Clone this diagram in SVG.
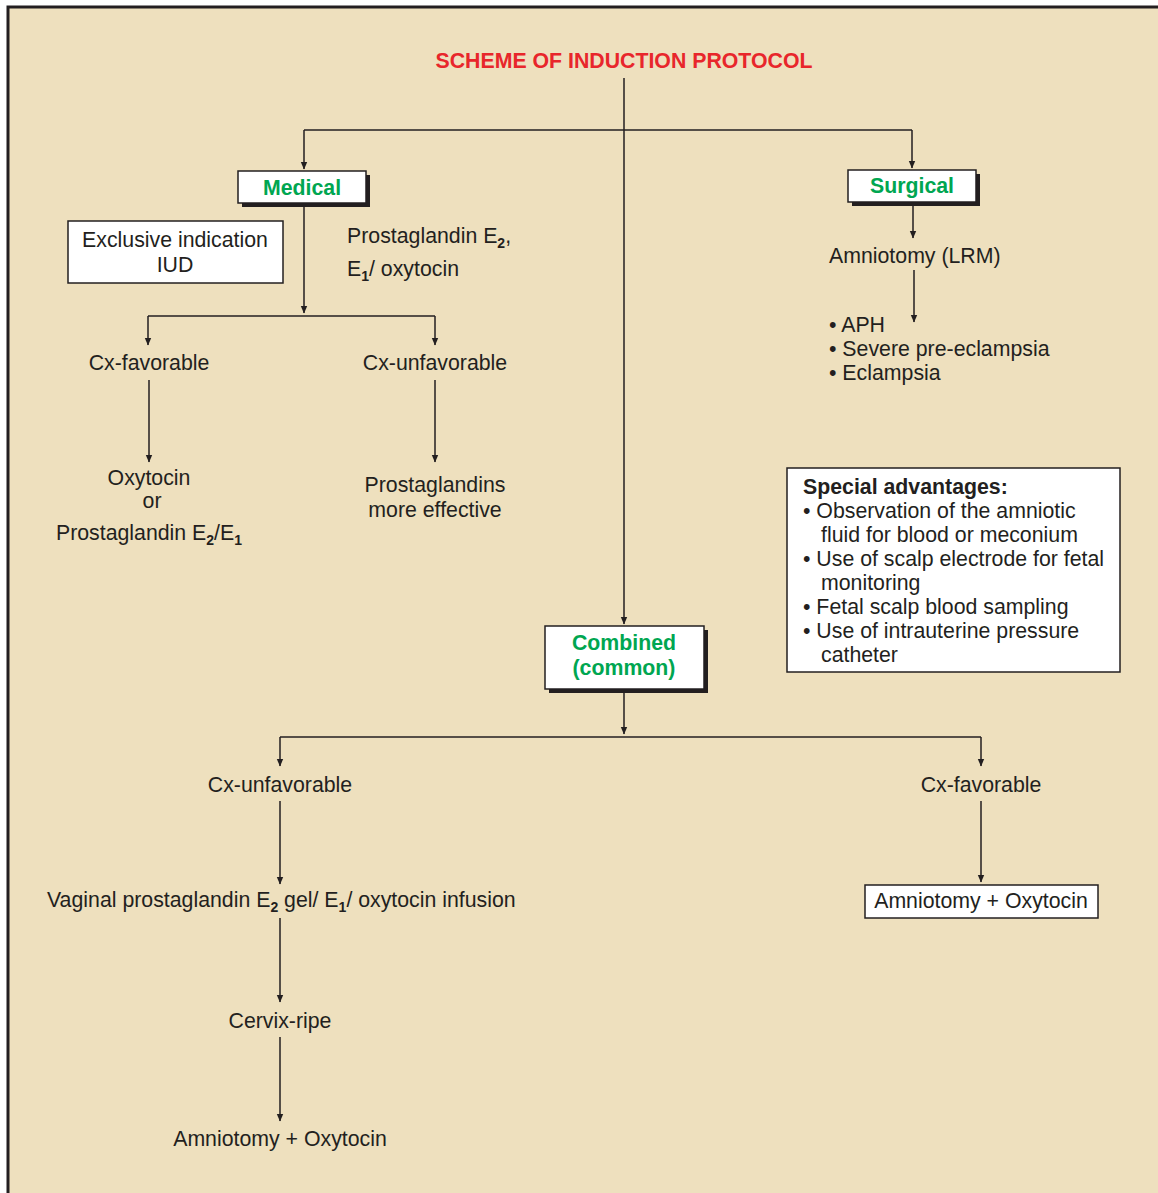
<svg xmlns="http://www.w3.org/2000/svg" width="1158" height="1193" viewBox="0 0 1158 1193">
<defs>
<marker id="ah" markerWidth="9" markerHeight="8" refX="7" refY="4" orient="auto" markerUnits="userSpaceOnUse">
<path d="M0,0.8 L7.5,4 L0,7.2 Z" fill="#231f20"/>
</marker>
<style>
text{font-family:"Liberation Sans",Arial,sans-serif;font-size:21.3px;fill:#231f20}
.c{text-anchor:middle}
.t{fill:#e8262b;font-weight:bold;font-size:21.3px}
.g{fill:#00a651;font-weight:bold;font-size:21.3px}
.b{font-weight:bold}
.sub{font-size:14px;font-weight:bold}
.box{fill:#fff;stroke:#231f20;stroke-width:1.5}
.sh{fill:#231f20}
.ln{fill:none;stroke:#231f20;stroke-width:1.5}
.ar{fill:none;stroke:#231f20;stroke-width:1.5;marker-end:url(#ah)}
</style>
</defs>
<rect x="0" y="0" width="1158" height="1193" fill="#ffffff"/>
<rect x="8" y="7" width="1200" height="1250" fill="#eee0be" stroke="#231f20" stroke-width="3"/>

<g id="title"><text class="t c" x="624" y="68">SCHEME OF INDUCTION PROTOCOL</text></g>

<g id="connectors">
<path class="ar" d="M624,78 V624"/>
<path class="ln" d="M304,130 H912"/>
<path class="ar" d="M304,130 V169"/>
<path class="ar" d="M912,130 V168"/>
<path class="ar" d="M304,203 V313"/>
<path class="ln" d="M148,316 H435"/>
<path class="ar" d="M148,316 V345"/>
<path class="ar" d="M435,316 V345"/>
<path class="ar" d="M149,380 V462"/>
<path class="ar" d="M435,380 V462"/>
<path class="ar" d="M913,203 V238"/>
<path class="ar" d="M914,270 V322"/>
<path class="ar" d="M624,690 V734"/>
<path class="ln" d="M280,737 H981"/>
<path class="ar" d="M280,737 V766"/>
<path class="ar" d="M981,737 V766"/>
<path class="ar" d="M280,801 V884"/>
<path class="ar" d="M981,801 V882"/>
<path class="ar" d="M280,918 V1002"/>
<path class="ar" d="M280,1037 V1121"/>
</g>

<g id="medical">
<rect class="sh" x="242" y="175" width="128" height="32"/>
<rect class="box" x="238" y="171" width="128" height="32"/>
<text class="g c" x="302" y="195">Medical</text>
</g>

<g id="surgical">
<rect class="sh" x="852" y="174" width="128" height="32"/>
<rect class="box" x="848" y="170" width="128" height="32"/>
<text class="g c" x="912" y="193">Surgical</text>
</g>

<g id="exclusive">
<rect class="box" x="68" y="221" width="215" height="62"/>
<text class="c" x="175" y="247">Exclusive indication</text>
<text class="c" x="175" y="272">IUD</text>
</g>

<g id="prostaglandin-medical">
<text x="347" y="243">Prostaglandin E<tspan class="sub" dy="5">2</tspan><tspan dy="-5">,</tspan></text>
<text x="347" y="276">E<tspan class="sub" dy="5">1</tspan><tspan dy="-5">/ oxytocin</tspan></text>
</g>

<g id="cx-favorable-med"><text class="c" x="149" y="370">Cx-favorable</text></g>
<g id="cx-unfavorable-med"><text class="c" x="435" y="370">Cx-unfavorable</text></g>

<g id="oxytocin-or">
<text class="c" x="149" y="485">Oxytocin</text>
<text class="c" x="152" y="508">or</text>
<text class="c" x="149" y="540">Prostaglandin E<tspan class="sub" dy="5">2</tspan><tspan dy="-5">/E</tspan><tspan class="sub" dy="5">1</tspan></text>
</g>

<g id="prostaglandins-effective">
<text class="c" x="435" y="492">Prostaglandins</text>
<text class="c" x="435" y="517">more effective</text>
</g>

<g id="amniotomy-lrm"><text x="829" y="263">Amniotomy (LRM)</text></g>

<g id="indications">
<text x="829" y="332">• APH</text>
<text x="829" y="356">• Severe pre-eclampsia</text>
<text x="829" y="380">• Eclampsia</text>
</g>

<g id="special">
<rect class="box" x="787" y="468" width="333" height="204"/>
<text class="b" x="803" y="494">Special advantages:</text>
<text x="803" y="518">• Observation of the amniotic</text>
<text x="821" y="542">fluid for blood or meconium</text>
<text x="803" y="566">• Use of scalp electrode for fetal</text>
<text x="821" y="590">monitoring</text>
<text x="803" y="614">• Fetal scalp blood sampling</text>
<text x="803" y="638">• Use of intrauterine pressure</text>
<text x="821" y="662">catheter</text>
</g>

<g id="combined">
<rect class="sh" x="549" y="630" width="159" height="63"/>
<rect class="box" x="545" y="626" width="159" height="63"/>
<text class="g c" x="624" y="650">Combined</text>
<text class="g c" x="624" y="675">(common)</text>
</g>

<g id="cx-unfavorable-comb"><text class="c" x="280" y="792">Cx-unfavorable</text></g>
<g id="cx-favorable-comb"><text class="c" x="981" y="792">Cx-favorable</text></g>

<g id="vaginal"><text x="47" y="907">Vaginal prostaglandin E<tspan class="sub" dy="5">2</tspan><tspan dy="-5"> gel/ E</tspan><tspan class="sub" dy="5">1</tspan><tspan dy="-5">/ oxytocin infusion</tspan></text></g>

<g id="amniotomy-oxytocin-box">
<rect class="box" x="865" y="885" width="233" height="33"/>
<text class="c" x="981" y="908">Amniotomy + Oxytocin</text>
</g>

<g id="cervix-ripe"><text class="c" x="280" y="1028">Cervix-ripe</text></g>
<g id="amniotomy-oxytocin"><text class="c" x="280" y="1146">Amniotomy + Oxytocin</text></g>
</svg>
